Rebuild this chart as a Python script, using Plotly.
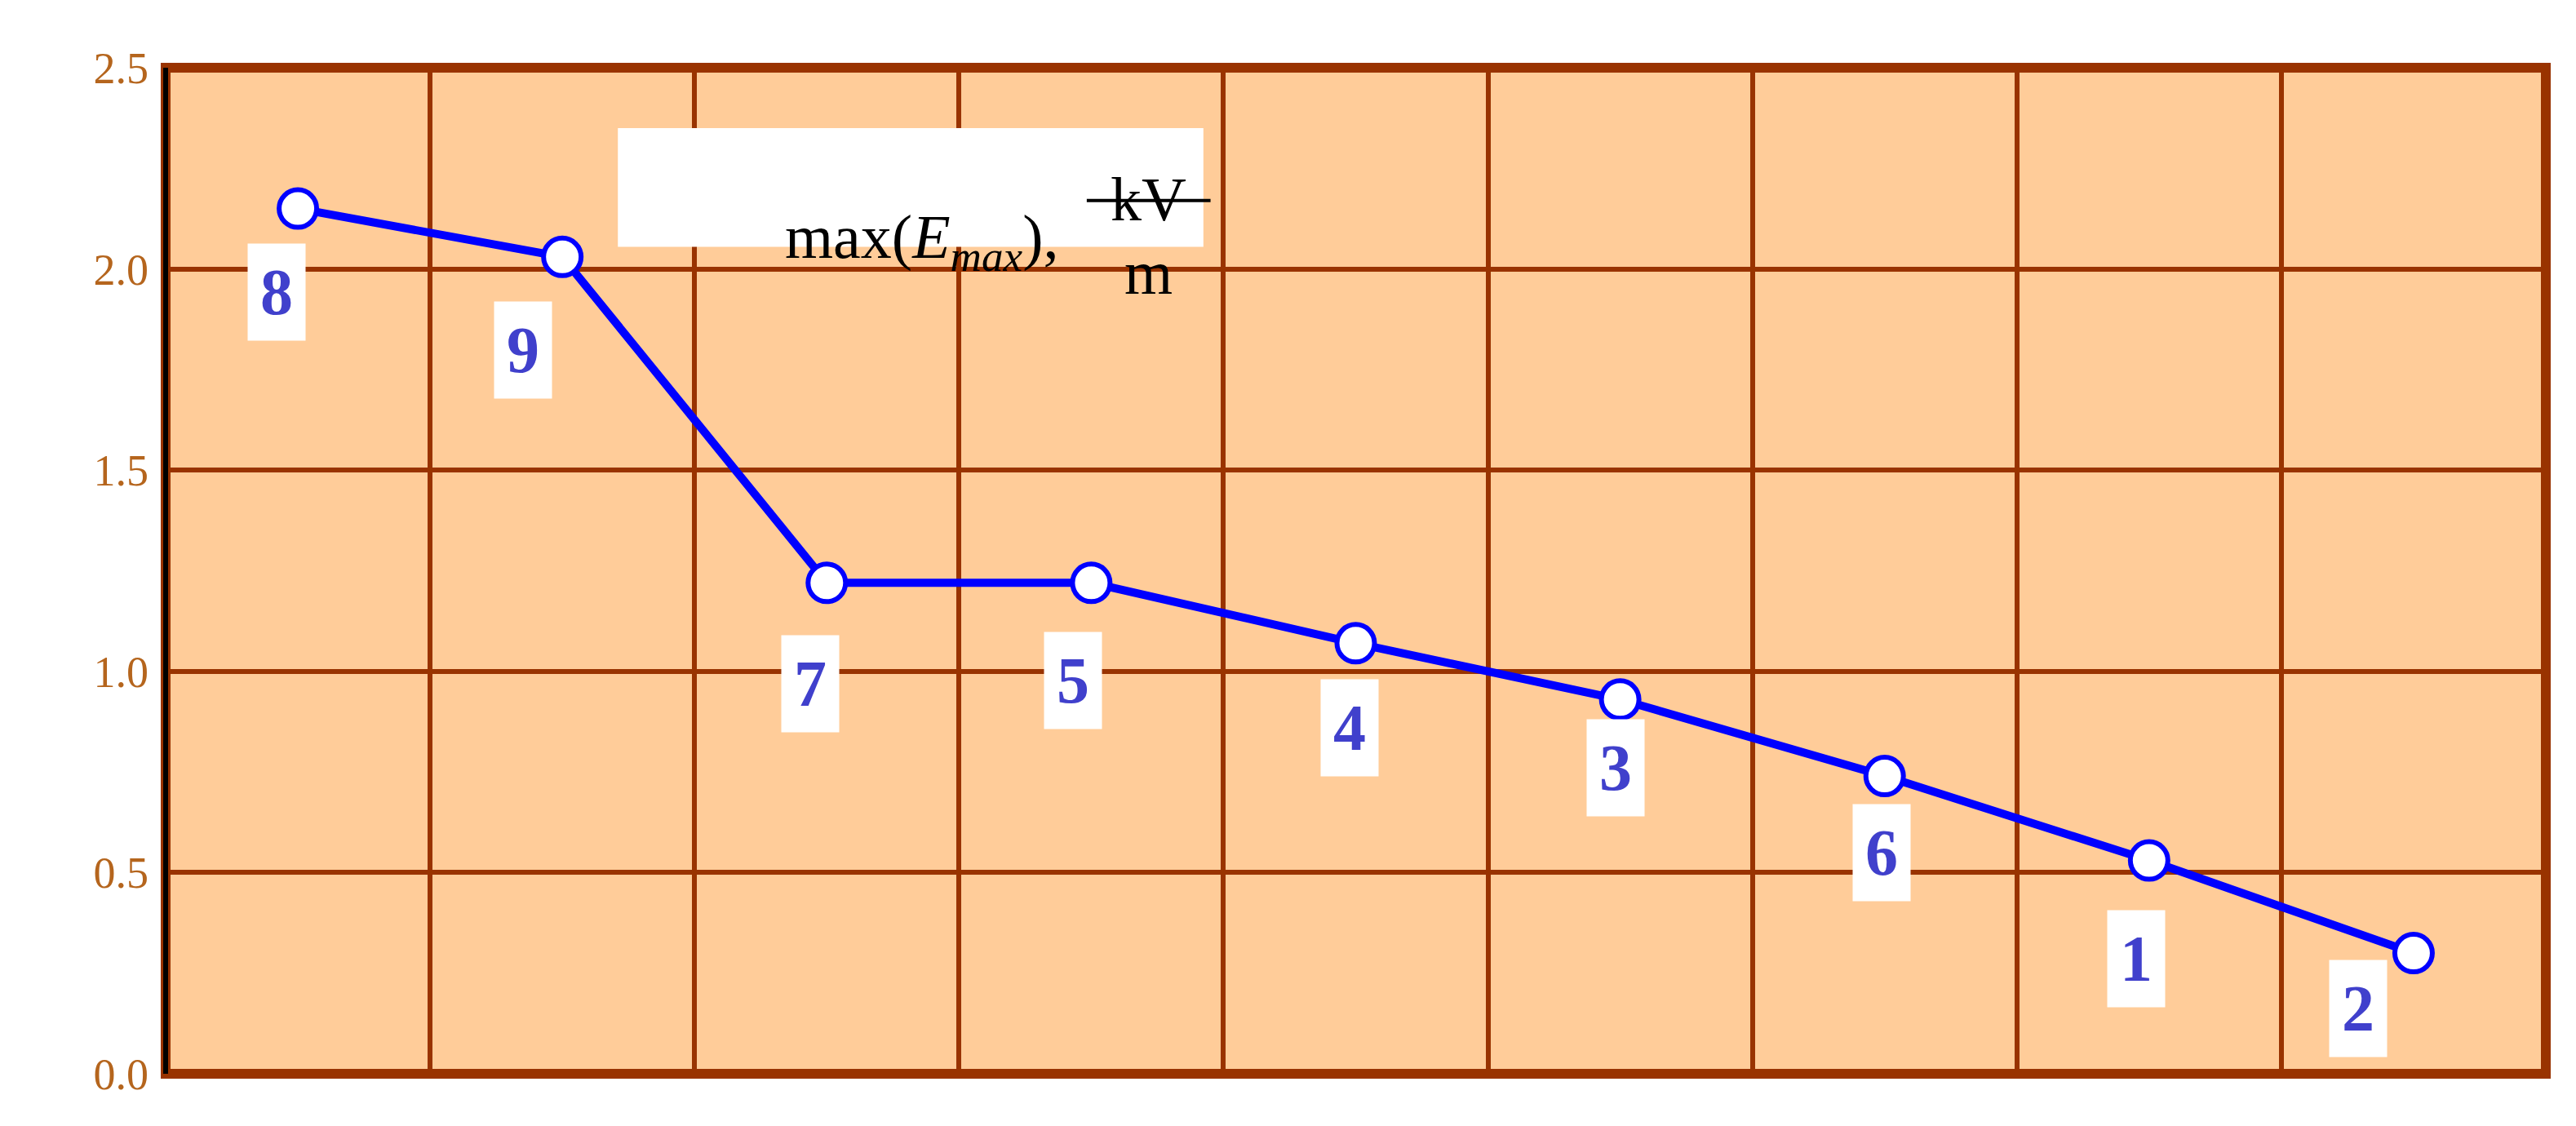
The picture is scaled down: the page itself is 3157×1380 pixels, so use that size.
import plotly.graph_objects as go

x_pos = [0.5, 1.5, 2.5, 3.5, 4.5, 5.5, 6.5, 7.5, 8.5]
labels = ["8", "9", "7", "5", "4", "3", "6", "1", "2"]
values = [2.15, 2.03, 1.22, 1.22, 1.07, 0.93, 0.74, 0.53, 0.30]
label_dx = [-26, -48, -20, -22, -8, -6, -4, -16, -68]
label_dy = [102, 114, 124, 120, 104, 84, 94, 120, 68]
y_ticks = [0.0, 0.5, 1.0, 1.5, 2.0, 2.5]

brown = "#993300"
fig = go.Figure()
fig.add_trace(go.Scatter(x=x_pos, y=values, mode="lines+markers",
    line=dict(color="#0000FF", width=10),
    marker=dict(symbol="circle", size=46, color="white", line=dict(color="#0000FF", width=6))))

for xv, yv, t, dx, dy in zip(x_pos, values, labels, label_dx, label_dy):
    fig.add_annotation(x=xv, y=yv, text="<b>%s</b>" % t, showarrow=True, ax=dx, ay=dy,
        arrowcolor="rgba(0,0,0,0)", arrowwidth=0.1, bgcolor="white", width=68, height=116,
        font=dict(family="Liberation Serif", size=80, color="#4040CC"))

fig.add_shape(type="rect", xref="paper", yref="paper", x0=0.19, x1=0.436, y0=0.822, y1=0.94,
    fillcolor="white", line=dict(width=0), layer="above")
fig.add_annotation(xref="paper", yref="paper", x=0.376, y=0.868, text="max(<i>E<sub>max</sub></i>),",
    showarrow=False, xanchor="right", font=dict(family="Liberation Serif", size=76, color="black"))
fig.add_annotation(xref="paper", yref="paper", x=0.413, y=0.905, text="kV", showarrow=False,
    font=dict(family="Liberation Serif", size=76, color="black"))
fig.add_annotation(xref="paper", yref="paper", x=0.413, y=0.832, text="m", showarrow=False,
    font=dict(family="Liberation Serif", size=76, color="black"))
fig.add_shape(type="line", xref="paper", yref="paper", x0=0.387, x1=0.439, y0=0.868, y1=0.868,
    line=dict(color="black", width=4), layer="above")

fig.add_shape(type="rect", xref="paper", yref="paper", x0=0, x1=1, y0=0, y1=1,
    line=dict(color=brown, width=12), layer="above")
fig.add_shape(type="line", xref="paper", yref="paper", x0=0, x1=0, y0=0, y1=1,
    line=dict(color="black", width=6), layer="above")

fig.update_layout(width=3157, height=1380, paper_bgcolor="white", plot_bgcolor="#FFCC99",
    margin=dict(l=195, r=45, t=75, b=72), showlegend=False)
fig.update_xaxes(range=[0, 9], dtick=1, tick0=0, showticklabels=False, showgrid=True,
    gridcolor=brown, gridwidth=6, zeroline=False, ticks="")
fig.update_yaxes(range=[0, 2.5], tickvals=y_ticks, tickformat=".1f", showgrid=True,
    gridcolor=brown, gridwidth=6, zeroline=False, ticks="", ticklabelstandoff=20,
    tickfont=dict(family="Liberation Serif", size=54, color="#B5651D"))
fig.write_html("out.html")
